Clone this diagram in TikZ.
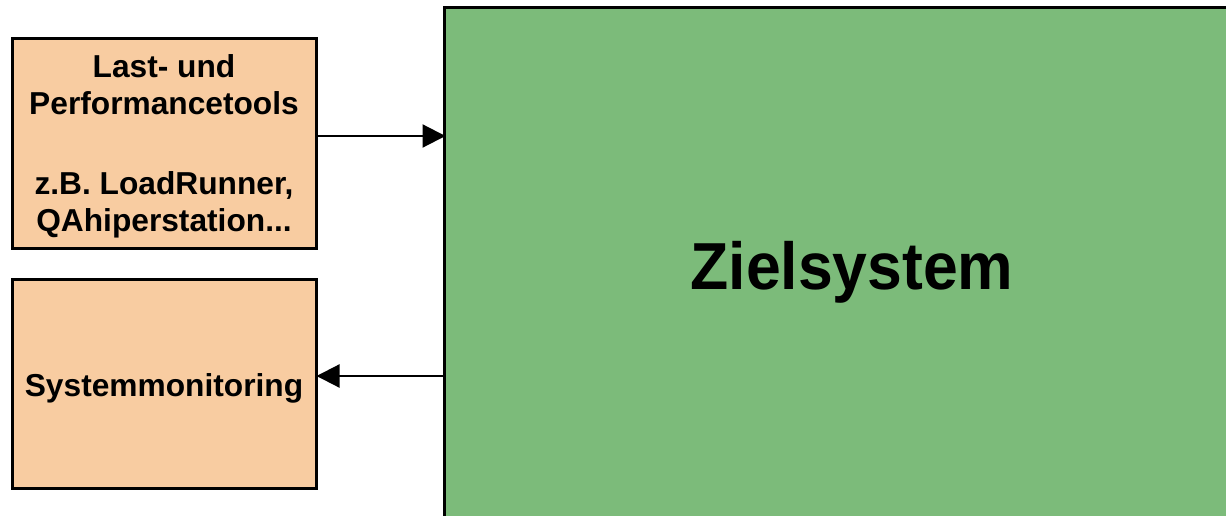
\documentclass[tikz,border=0pt]{standalone}
\usepackage{fontspec}
\setmainfont{Liberation Sans}
\usetikzlibrary{arrows.meta}
\definecolor{boxorange}{HTML}{F8CCA1}
\definecolor{boxgreen}{HTML}{7CBB7A}
\tikzset{
  toolbox/.style={draw=black, line width=3pt, fill=boxorange, minimum width=304pt, minimum height=209pt, inner sep=0pt},
  boxtext/.style={inner sep=0pt, align=center, font=\bfseries\fontsize{31.7}{37}\selectfont},
  conn/.style={line width=2.2pt, -{Triangle[length=23pt,width=23pt]}, shorten >=-1pt}
}
\begin{document}
\begin{tikzpicture}[x=1pt,y=-1pt]
\useasboundingbox (0,0) rectangle (1226,516);
\draw[line width=3pt, fill=boxgreen] (444.5,7.5) rectangle (1280,560);
\node[anchor=base, inner sep=0pt, font=\bfseries\fontsize{66.5}{70}\selectfont] (z) at (852,289) {\scalebox{0.94}[1]{Zielsystem}};
\coordinate (zw1) at (444.5,136);
\coordinate (zw2) at (444.5,376);
\node[toolbox] (b1) at (164,143.5) {};
\node[toolbox] (b2) at (164,384) {};
\node[boxtext, anchor=base] (t1) at (164,231) {Last- und\\Performancetools\\[43pt]z.B. LoadRunner,\\QAhiperstation...};
\node[boxtext, anchor=base] (t2) at (164,396) {Systemmonitoring};
\draw[conn] (b1.east |- zw1) -- (zw1);
\draw[conn] (zw2) -- (b2.east |- zw2);
\end{tikzpicture}
\end{document}
